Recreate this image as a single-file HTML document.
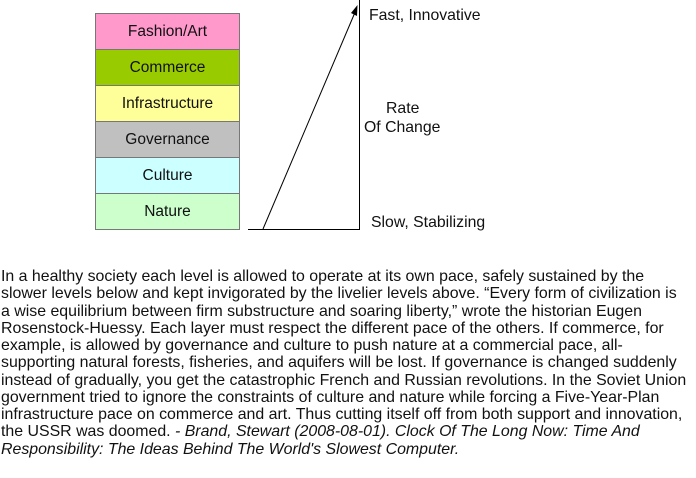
<!DOCTYPE html>
<html><head><meta charset="utf-8"><style>
body{margin:0;width:696px;height:478px;background:#fff;position:relative;font-family:"Liberation Sans",Arial,sans-serif;overflow:hidden}
.b{position:absolute;left:95px;width:143px;height:35px;border:1px solid #777;font-size:15.5px;text-align:center;line-height:35px;color:#111}
.t{position:absolute;font-size:15.8px;white-space:nowrap;color:#111}
#p{position:absolute;left:1px;top:268px;font-size:15.9px;line-height:17.25px;white-space:nowrap;color:#111}
</style></head><body>
<div class="b" style="top:13px;background:#ff99cc">Fashion/Art</div>
<div class="b" style="top:49px;background:#99cc00">Commerce</div>
<div class="b" style="top:85px;background:#ffff99">Infrastructure</div>
<div class="b" style="top:121px;background:#c0c0c0">Governance</div>
<div class="b" style="top:157px;background:#ccffff">Culture</div>
<div class="b" style="top:193px;background:#ccffcc">Nature</div>
<svg style="position:absolute;left:0;top:0" width="696" height="240">
<line x1="248" y1="229.5" x2="359" y2="229.5" stroke="#000" stroke-width="1"/>
<line x1="359.5" y1="0" x2="359.5" y2="230" stroke="#000" stroke-width="1"/>
<line x1="263" y1="229" x2="356" y2="10" stroke="#000" stroke-width="1"/>
<polygon points="357.5,5 357,16 351,13" fill="#000"/>
</svg>
<div class="t" style="left:369px;top:7px">Fast, Innovative</div>
<div class="t" style="left:386px;top:100px">Rate</div>
<div class="t" style="left:364px;top:119px">Of Change</div>
<div class="t" style="left:371px;top:214px">Slow, Stabilizing</div>
<div id="p">In a healthy society each level is allowed to operate at its own pace, safely sustained by the<br>slower levels below and kept invigorated by the livelier levels above. “Every form of civilization is<br>a wise equilibrium between firm substructure and soaring liberty,” wrote the historian Eugen<br>Rosenstock-Huessy. Each layer must respect the different pace of the others. If commerce, for<br>example, is allowed by governance and culture to push nature at a commercial pace, all-<br>supporting natural forests, fisheries, and aquifers will be lost. If governance is changed suddenly<br>instead of gradually, you get the catastrophic French and Russian revolutions. In the Soviet Union<br>government tried to ignore the constraints of culture and nature while forcing a Five-Year-Plan<br>infrastructure pace on commerce and art. Thus cutting itself off from both support and innovation,<br>the USSR was doomed. <i>- Brand, Stewart (2008-08-01). Clock Of The Long Now: Time And</i><br><i>Responsibility: The Ideas Behind The World's Slowest Computer.</i></div>
</body></html>
